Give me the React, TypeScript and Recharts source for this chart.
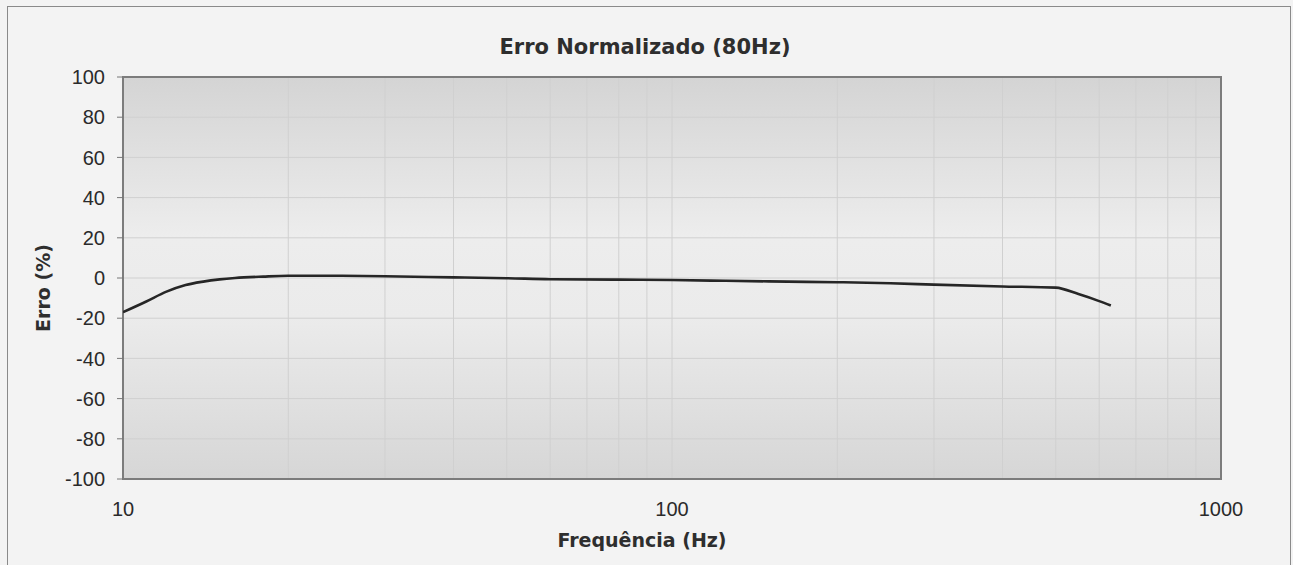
import { LineChart, Line, XAxis, YAxis, CartesianGrid, ReferenceArea } from "recharts";

const freqs = [10, 11, 12, 13, 14, 15, 16, 18, 20, 25, 30, 40, 50, 60, 80, 100, 125, 150, 200, 250, 300, 400, 500, 550, 600, 630];
const errors = [-17, -11.8, -6.8, -3.5, -1.8, -0.7, 0, 0.7, 1.1, 1.1, 0.9, 0.3, -0.1, -0.6, -0.8, -1.0, -1.4, -1.7, -2.1, -2.6, -3.3, -4.2, -4.8, -8.0, -11.5, -13.7];

const xGridTicks = [10, 20, 30, 40, 50, 60, 70, 80, 90, 100, 200, 300, 400, 500, 600, 700, 800, 900, 1000];
const xLabels = [10, 100, 1000];
const yTicks = [-100, -80, -60, -40, -20, 0, 20, 40, 60, 80, 100];

const W = 1293;
const H = 565;

const boldFont = "'DejaVu Sans', sans-serif";
const tickFont = "'Liberation Sans', Arial, sans-serif";

export default function App() {
  const data = freqs.map((f, i) => ({ f, e: errors[i] }));

  return (
    <div style={{ position: "absolute", left: 0, top: 0, width: W, height: H, overflow: "hidden", background: "#f3f3f3" }}>
      <div style={{ position: "absolute", left: 7, top: 6, width: 1282, height: 620, border: "1px solid #8a8a8a" }} />

      <div style={{ position: "absolute", left: 0, top: 36, width: 1290, textAlign: "center",
        fontFamily: boldFont, fontWeight: 700, fontSize: 21, lineHeight: "22px", color: "#2e2e2e" }}>
        Erro Normalizado (80Hz)
      </div>

      <div style={{ position: "absolute", left: 0, top: 529, width: 1284, textAlign: "center",
        fontFamily: boldFont, fontWeight: 700, fontSize: 19, lineHeight: "22px", color: "#2e2e2e" }}>
        Frequência (Hz)
      </div>

      <div style={{ position: "absolute", left: -57, top: 277, width: 200, height: 22, textAlign: "center",
        transform: "rotate(-90deg)", fontFamily: boldFont, fontWeight: 700, fontSize: 19, lineHeight: "22px", color: "#2e2e2e" }}>
        Erro (%)
      </div>

      <div style={{ position: "absolute", left: 0, top: 0 }}>
        <LineChart width={W} height={H} data={data} margin={{ top: 77, right: 72, left: 0, bottom: 0 }}>
          <defs>
            <linearGradient id="plotBg" x1="0" y1="0" x2="0" y2="1">
              <stop offset="0%" stopColor="#d4d4d4" />
              <stop offset="40%" stopColor="#ededed" />
              <stop offset="60%" stopColor="#ebebeb" />
              <stop offset="100%" stopColor="#d6d6d6" />
            </linearGradient>
          </defs>
          <CartesianGrid fill="url(#plotBg)" stroke="#d0d0d0" strokeWidth={1} />
          <XAxis type="number" dataKey="f" scale="log" domain={[10, 1000]} ticks={xGridTicks} interval={0}
            allowDataOverflow height={86} axisLine={false} tickLine={false} tickSize={0} tickMargin={23}
            tickFormatter={(v: number) => (xLabels.includes(v) ? String(v) : "")}
            tick={{ fill: "#2a2a2a", fontSize: 20, fontFamily: tickFont }} />
          <YAxis type="number" domain={[-100, 100]} ticks={yTicks} interval={0} width={123}
            axisLine={false} tickSize={6} tickMargin={12} tickLine={{ stroke: "#777" }}
            tick={{ fill: "#2a2a2a", fontSize: 20, fontFamily: tickFont }} />
          <ReferenceArea x1={10} x2={1000} y1={-100} y2={100} fill="none" fillOpacity={0}
            stroke="#7c7c7c" strokeWidth={2} />
          <Line type="monotone" dataKey="e" stroke="#262626" strokeWidth={2.6} dot={false} isAnimationActive={false} />
        </LineChart>
      </div>
    </div>
  );
}
